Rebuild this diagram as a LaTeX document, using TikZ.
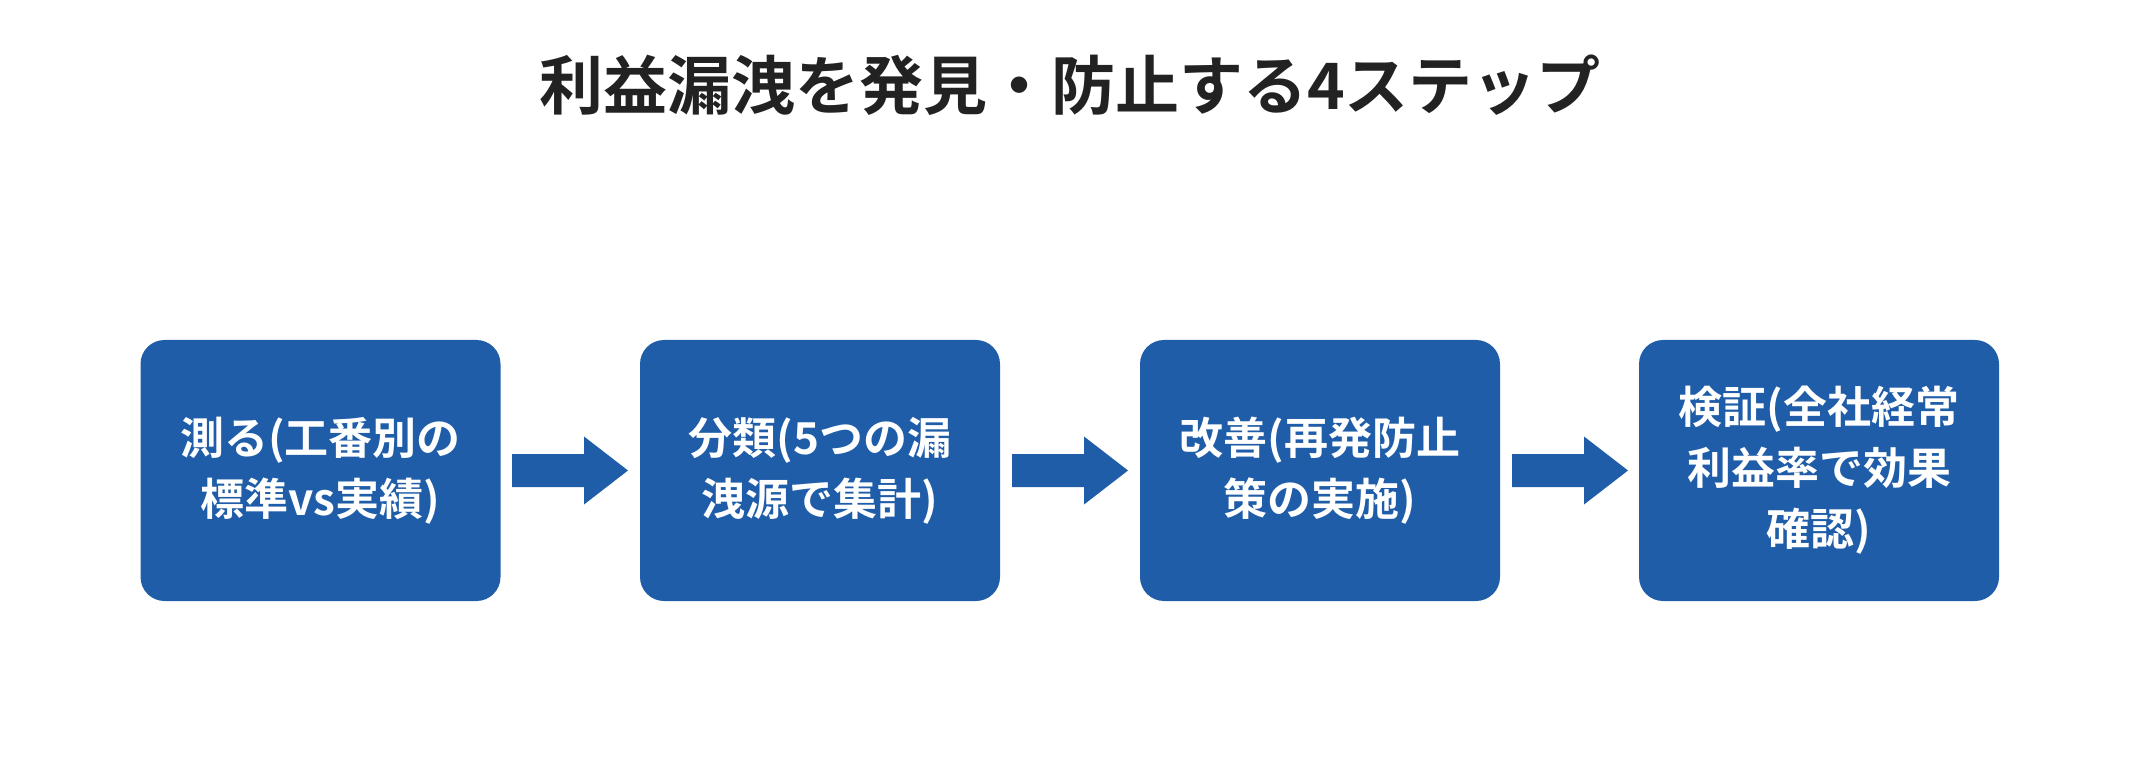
\documentclass[tikz,border=0pt]{standalone}
\usepackage{fontspec}
\setmainfont{Noto Sans CJK JP}[BoldFont={* Bold}]
\definecolor{boxblue}{HTML}{1F5DA8}
\definecolor{titlec}{HTML}{222222}
\begin{document}
\begin{tikzpicture}[x=1pt,y=1pt,
  stepbox/.style={fill=boxblue,rounded corners=24pt,minimum width=360pt,minimum height=261pt,
    text=white,align=center,font=\fontsize{44}{61}\selectfont\bfseries,inner sep=0pt},
  harrow/.style={fill=boxblue,draw=none}]
\useasboundingbox (0,0) rectangle (2140,780);
\node[font=\fontsize{64}{72}\selectfont\bfseries,text=titlec] (title) at (1070,695) {利益漏洩を発見・防止する4ステップ};
\node[stepbox] (s1) at (320.5,309.5) {測る(工番別の\\標準vs実績)};
\node[stepbox] (s2) at (820,309.5) {分類(5つの漏\\洩源で集計)};
\node[stepbox] (s3) at (1320,309.5) {改善(再発防止\\策の実施)};
\node[stepbox] (s4) at (1819,309.5) {検証(全社経常\\利益率で効果\\確認)};
\foreach \n/\x in {a1/570,a2/1070,a3/1570}{
  \coordinate (\n) at (\x,309.5);
  \fill[harrow] ([shift={(-58,-16.5)}]\n) -- ([shift={(14,-16.5)}]\n) -- ([shift={(14,-34)}]\n)
    -- ([shift={(58,0)}]\n) -- ([shift={(14,34)}]\n) -- ([shift={(14,16.5)}]\n)
    -- ([shift={(-58,16.5)}]\n) -- cycle;
}
\end{tikzpicture}
\end{document}
